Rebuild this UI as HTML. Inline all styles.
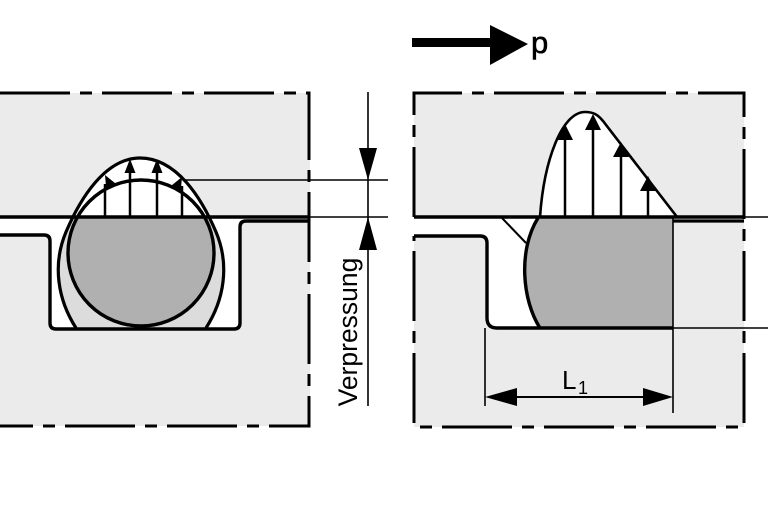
<!DOCTYPE html>
<html><head><meta charset="utf-8"><style>
html,body{margin:0;padding:0;background:#fff;}
svg{display:block;}
text{font-family:"Liberation Sans",Arial,sans-serif;fill:#000;}
</style></head><body>
<svg width="768" height="512" viewBox="0 0 768 512" xmlns="http://www.w3.org/2000/svg">
<defs>
<clipPath id="below"><rect x="0" y="217" width="768" height="300"/></clipPath>
</defs>
<rect width="768" height="512" fill="#fff"/>

<!-- ===== Top arrow p ===== -->
<rect x="412" y="38" width="80" height="9" fill="#000"/>
<polygon points="490,25 528,44 490,65" fill="#000"/>
<text x="531" y="53" font-size="31" stroke="#000" stroke-width="0.6">p</text>

<!-- ===== LEFT PANEL ===== -->
<rect x="0" y="93" width="310" height="333" fill="#ebebeb"/>
<path d="M0,217 H310 V221 H246 Q240,221 240,227 V323 Q240,329 234,329 H56 Q50,329 50,323 V241 Q50,235 44,235 H0 Z" fill="#fff"/>
<path d="M76,328 C58,300 52,265 66,232 C80,199 105,158 140,158 C177,158 202,199 216,232 C230,265 224,300 206,328 Z" fill="#fff"/>
<path d="M76,328 C58,300 52,265 66,232 C80,199 105,158 140,158 C177,158 202,199 216,232 C230,265 224,300 206,328 Z" fill="#dcdcdc" clip-path="url(#below)"/>
<circle cx="141" cy="253" r="73" fill="#b0b0b0" clip-path="url(#below)"/>
<g stroke="#000" stroke-width="2.5">
<line x1="105" y1="217" x2="105" y2="184"/>
<line x1="130" y1="217" x2="130" y2="168"/>
<line x1="157" y1="217" x2="157" y2="168"/>
<line x1="182" y1="217" x2="182" y2="186"/>
</g>
<g fill="#000">
<polygon points="130,159 124.5,173 135.5,173"/>
<polygon points="157,159 151.5,173 162.5,173"/>
<polygon points="105,175 99.5,188 110.5,188" transform="rotate(-28,105,175)"/>
<polygon points="182,177 176.5,190 187.5,190" transform="rotate(28,182,177)"/>
</g>
<circle cx="141" cy="253" r="73" fill="none" stroke="#000" stroke-width="3.4"/>
<path d="M76,328 C58,300 52,265 66,232 C80,199 105,158 140,158 C177,158 202,199 216,232 C230,265 224,300 206,328" fill="none" stroke="#000" stroke-width="3.2"/>
<path d="M0,235 H44 Q50,235 50,241 V323 Q50,329 56,329 H234 Q240,329 240,323 V227 Q240,221 246,221 H310" fill="none" stroke="#000" stroke-width="3.4"/>
<line x1="0" y1="217" x2="310" y2="217" stroke="#000" stroke-width="3.4"/>
<path d="M0,93 H309 V426 H0" fill="none" stroke="#000" stroke-width="3" stroke-dasharray="70 10 12 10"/>

<!-- ===== MIDDLE DIMENSION ===== -->
<g stroke="#000" stroke-width="1.6">
<line x1="183" y1="180" x2="388" y2="180"/>
<line x1="310" y1="217" x2="388" y2="217"/>
<line x1="368" y1="92" x2="368" y2="406"/>
</g>
<polygon points="368,180 359,148 377,148" fill="#000"/>
<polygon points="368,217 359,250 377,250" fill="#000"/>
<text transform="translate(357,332) rotate(-90)" text-anchor="middle" font-size="26.5">Verpressung</text>

<!-- ===== RIGHT PANEL ===== -->
<rect x="414" y="93" width="330" height="334" fill="#ebebeb"/>
<path d="M414,217 H744 V220 H673 V328 H497 Q487,328 487,318 V243 Q487,236 480,236 H414 Z" fill="#fff"/>
<path d="M540,217 C544,160 562,112 585,112 C594,112 598,115 603,121 L677,217 Z" fill="#fff" stroke="#000" stroke-width="2.6"/>
<g stroke="#000" stroke-width="2.5">
<line x1="565" y1="217" x2="565" y2="135"/>
<line x1="593" y1="217" x2="593" y2="125"/>
<line x1="621" y1="217" x2="621" y2="152"/>
<line x1="648" y1="217" x2="648" y2="186"/>
</g>
<g fill="#000">
<polygon points="565,124 557,140 573,140"/>
<polygon points="593,114 585,130 601,130"/>
<polygon points="621,142 613,157 629,157"/>
<polygon points="648,176 640,191 656,191"/>
</g>
<path d="M538,218 H673 V328 H540 C522,300 518,250 538,218 Z" fill="#b0b0b0"/>
<path d="M538,218 C518,250 522,300 540,328" fill="none" stroke="#000" stroke-width="3.4"/>
<line x1="502" y1="218" x2="526" y2="243" stroke="#000" stroke-width="2"/>
<path d="M414,236 H480 Q487,236 487,243 V318 Q487,328 497,328 H673" fill="none" stroke="#000" stroke-width="3.4"/>
<line x1="414" y1="217" x2="744" y2="217" stroke="#000" stroke-width="3.4"/>
<line x1="673" y1="221" x2="744" y2="221" stroke="#000" stroke-width="3.2"/>
<g stroke="#000" stroke-width="1.6">
<line x1="744" y1="217" x2="768" y2="217"/>
<line x1="673" y1="328" x2="768" y2="328"/>
<line x1="673" y1="217" x2="673" y2="413"/>
<line x1="485" y1="328" x2="485" y2="406"/>
<line x1="500" y1="397" x2="660" y2="397" stroke-width="2"/>
</g>
<polygon points="485,397 517,388 517,406" fill="#000"/>
<polygon points="673,397 643,388 643,406" fill="#000"/>
<text x="562" y="389" font-size="26">L</text>
<text x="578" y="394" font-size="18">1</text>
<path d="M414,217 V93 H744 V427 H414 V236" fill="none" stroke="#000" stroke-width="3" stroke-dasharray="70 10 12 10"/>
</svg>
</body></html>
